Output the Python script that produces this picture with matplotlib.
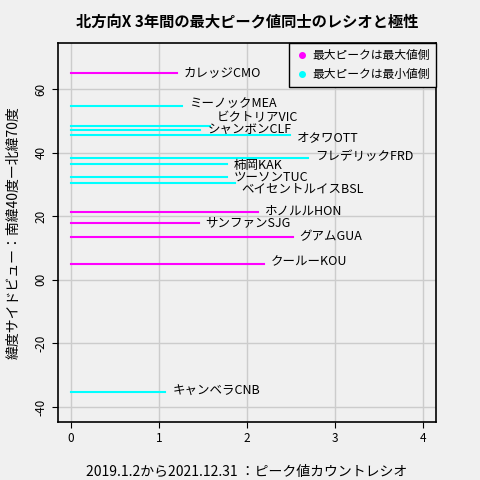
import matplotlib

matplotlib.use("Agg")

import matplotlib.pyplot as plt
from matplotlib.lines import Line2D

plt.rcParams["font.family"] = ["Noto Sans CJK JP", "DejaVu Sans"]

names = ["カレッジCMO", "ミーノックMEA", "ビクトリアVIC", "シャンボンCLF", "オタワOTT",
         "フレデリックFRD", "柿岡KAK", "ツーソンTUC", "ベイセントルイスBSL",
         "ホノルルHON", "サンファンSJG", "グアムGUA", "クールーKOU", "キャンベラCNB"]
lat = [65.1, 54.7, 48.4, 47.2, 45.5, 38.3, 36.3, 32.3, 30.4, 21.2, 18.0, 13.5, 5.1, -35.4]
ratio = [1.20, 1.26, 1.58, 1.47, 2.49, 2.69, 1.77, 1.77, 1.86, 2.12, 1.45, 2.52, 2.19, 1.07]
is_max = [True, False, False, False, False, False, False, False, False,
          True, True, True, True, False]
label_dy = [0, 0.6, 2.5, 0, -0.8, 0.4, -0.4, -0.1, -1.9, 0.4, 0, 0, 0.5, 0.3]

BG = "#f0f0f0"
fig = plt.figure(figsize=(4.8, 4.8), dpi=100, facecolor=BG)
ax = fig.add_axes([58 / 480, 58 / 480, 378 / 480, 379 / 480], facecolor=BG)

for n, y, r, m, dy in zip(names, lat, ratio, is_max, label_dy):
    c = "#ff00ff" if m else "#00ffff"
    ax.plot([0, r], [y, y], color=c, lw=1.5, zorder=3)
    ax.text(r + 0.08, y + dy, n, fontsize=9, va="center", ha="left", zorder=4)

ax.set_xlim(-0.15, 4.15)
ax.set_ylim(-44.7, 74.5)
ax.set_xticks([0, 1, 2, 3, 4])
ax.set_yticks([-40, -20, 0, 20, 40, 60])
ax.set_yticklabels(["-40", "-20", "00", "20", "40", "60"], rotation=90, va="center")
ax.tick_params(labelsize=8.5, length=4)
ax.grid(True, color="#cccccc", lw=1)
ax.set_axisbelow(True)
for s in ax.spines.values():
    s.set_linewidth(1.2)

ax.set_title("北方向X 3年間の最大ピーク値同士のレシオと極性", fontsize=11,
             fontweight="bold", pad=12)
ax.set_xlabel("2019.1.2から2021.12.31 ：ピーク値カウントレシオ", fontsize=10, labelpad=14)
ax.set_ylabel("緯度サイドビュー：南緯40度ー北緯70度", fontsize=10, labelpad=10)

handles = [Line2D([], [], ls="", marker="o", ms=4, color="#ff00ff"),
           Line2D([], [], ls="", marker="o", ms=4, color="#00ffff")]
leg = ax.legend(handles, ["最大ピークは最大値側", "最大ピークは最小値側"], loc="upper right",
                fontsize=8.5, facecolor=BG, edgecolor="black", fancybox=False,
                framealpha=1, borderaxespad=0, handletextpad=0.3, handlelength=1.2,
                borderpad=0.5)
leg.get_frame().set_linewidth(1)

fig.savefig("out.png", dpi=100, facecolor=BG)
